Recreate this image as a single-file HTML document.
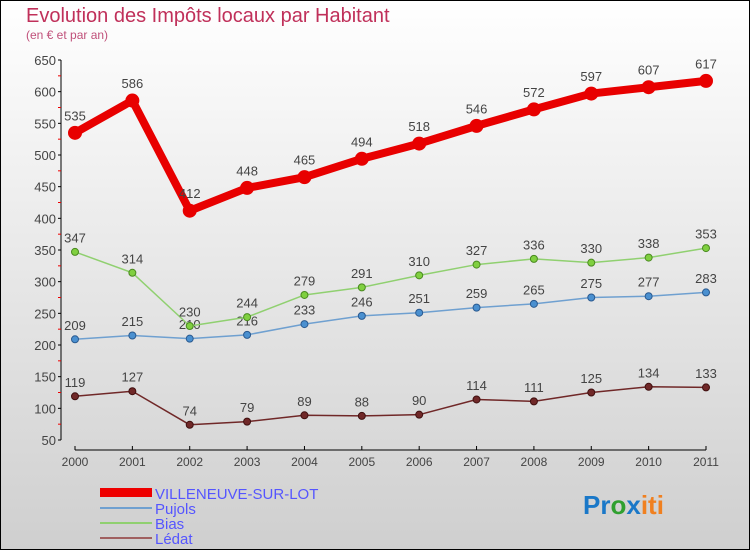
<!DOCTYPE html>
<html><head><meta charset="utf-8"><style>
body{margin:0}
svg{display:block;font-family:"Liberation Sans",sans-serif}
</style></head><body>
<svg width="750" height="550" viewBox="0 0 750 550">
<defs><linearGradient id="bg" x1="0" y1="0" x2="0" y2="1"><stop offset="0" stop-color="#ffffff"/><stop offset="1" stop-color="#cfcfcf"/></linearGradient></defs>
<rect x="0.5" y="0.5" width="749" height="549" fill="url(#bg)" stroke="#000"/>
<text x="26" y="22" font-size="20" fill="#c0305a">Evolution des Impôts locaux par Habitant</text>
<text x="26" y="39" font-size="12" fill="#c0507a">(en € et par an)</text>
<g id="axes"></g>
<g id="series"></g>
<g font-size="15" fill="#5555ff">
<rect x="100" y="488" width="52" height="9" fill="#e00"/>
<text x="155" y="499" fill="#5555ff">VILLENEUVE-SUR-LOT</text>
<rect x="100" y="507" width="52" height="2" fill="#6fa0d0"/>
<text x="155" y="514" fill="#5555ff">Pujols</text>
<rect x="100" y="522" width="52" height="2" fill="#90d070"/>
<text x="155" y="529" fill="#5555ff">Bias</text>
<rect x="100" y="537" width="52" height="2" fill="#a06060"/>
<text x="155" y="544" fill="#5555ff">Lédat</text>
</g>
<text x="583" y="514" font-size="26" font-weight="bold"><tspan fill="#1a78c8">Pr</tspan><tspan fill="#30a030">o</tspan><tspan fill="#1a78c8">x</tspan><tspan fill="#f08020">iti</tspan></text>
</svg>
<script>
const years=[2000,2001,2002,2003,2004,2005,2006,2007,2008,2009,2010,2011];
const villeneuve=[535,586,412,448,465,494,518,546,572,597,607,617];
const pujols=[209,215,210,216,233,246,251,259,265,275,277,283];
const bias=[347,314,230,244,279,291,310,327,336,330,338,353];
const ledat=[119,127,74,79,89,88,90,114,111,125,134,133];
const yTicks=[50,100,150,200,250,300,350,400,450,500,550,600,650];
const NS="http://www.w3.org/2000/svg";
const xs=i=>75+i*(706-75)/(years.length-1);
const ys=v=>440-(v-50)*380/600;
function mk(tag,attrs,parent){const e=document.createElementNS(NS,tag);for(const k in attrs)e.setAttribute(k,attrs[k]);parent.appendChild(e);return e;}
const ax=document.getElementById('axes'),sg=document.getElementById('series');
let l=mk('line',{x1:61,y1:60,x2:61,y2:440,stroke:'#000'},ax);


l=mk('line',{x1:75,y1:450,x2:706,y2:450,stroke:'#000'},ax);


yTicks.forEach((v,i)=>{
 const y=ys(v);
 mk('line',{x1:58,y1:y,x2:61,y2:y,stroke:'#000'},ax);
 if(i<yTicks.length-1){mk('line',{x1:58,y1:ys(v+25),x2:61,y2:ys(v+25),stroke:'#e00'},ax);}
 const t=mk('text',{x:56,y:y+5,'text-anchor':'end','font-size':13,fill:'#444'},ax);
 t.textContent=v;
 
 
});
years.forEach((yr,i)=>{
 const x=xs(i);
 mk('line',{x1:x,y1:446,x2:x,y2:450,stroke:'#000'},ax);
 const t=mk('text',{x:x,y:466,'text-anchor':'middle','font-size':12,fill:'#444'},ax);
 t.textContent=yr;
 
 
});
function series(data,name,color,dot,dotStroke,w,r){
 const g=mk('g',{},sg);
 
 
 const p=mk('polyline',{points:data.map((v,i)=>xs(i)+','+ys(v)).join(' '),fill:'none',stroke:color,'stroke-width':w,'stroke-linejoin':'round'},g);
 
 
 data.forEach((v,i)=>{
  const c=mk('circle',{cx:xs(i),cy:ys(v),r:r,fill:dot,stroke:dotStroke,'stroke-width':1},g);
  
  
  const t=mk('text',{x:xs(i),y:ys(v)-(r+6),'text-anchor':'middle','font-size':13,fill:'#444'},g);
  t.textContent=v;
  
  
 });
}
series(ledat,'ledat','#702828','#702828','#401010',1.5,3.5);
series(pujols,'pujols','#6fa0d0','#4a90d0','#2a5a90',1.5,3.5);
series(bias,'bias','#90d070','#80d040','#4a8a20',1.5,3.5);
series(villeneuve,'villeneuve','#e80000','#e80000','#e80000',8,6.5);
</script>
</body></html>
